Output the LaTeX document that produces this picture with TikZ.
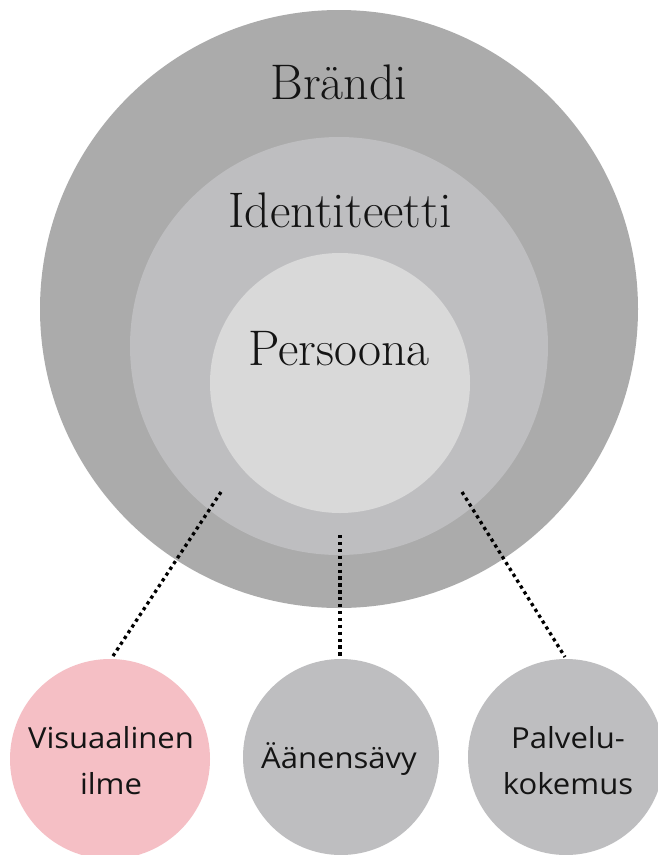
\documentclass[tikz,border=0pt]{standalone}
\usepackage{fontspec}
\newfontfamily\labelfont[FakeStretch=1.07]{Open Sans}
\definecolor{outerg}{RGB}{171,171,171}
\definecolor{midg}{RGB}{190,190,192}
\definecolor{innerg}{RGB}{217,217,217}
\definecolor{pinkc}{RGB}{245,191,197}
\definecolor{smallg}{RGB}{190,190,192}
\definecolor{txt}{RGB}{20,20,20}
\begin{document}
\begin{tikzpicture}[x=1pt,y=-1pt,
  ring/.style={circle,inner sep=0pt,draw=none},
  title/.style={anchor=base,inner sep=0pt,text=txt,font=\fontsize{50}{60}\selectfont},
  lbl/.style={inner sep=0pt,text=txt,align=center,font=\labelfont\fontsize{29}{46}\selectfont},
  dotline/.style={line width=3.3pt,dash pattern=on 3.3pt off 3.6pt,black}
]
\useasboundingbox (0,0) rectangle (658,855);
\fill[white] (0,0) rectangle (658,855);
% nested circles
\node[ring,fill=outerg,minimum size=598pt] (brand) at (339,309) {};
\node[ring,fill=midg,minimum size=418pt] (ident) at (339,346) {};
\node[ring,fill=innerg,minimum size=260pt] (pers) at (340,383) {};
% titles
\node[title] (brandT) at (339,99) {Brändi};
\node[title] (identT) at (340,227) {Identiteetti};
\node[title] (persT) at (339,365) {Persoona};
% bottom circles
\node[ring,fill=pinkc,minimum size=200pt] (vis) at (110,759) {};
\node[ring,fill=smallg,minimum size=196pt] (tone) at (341,757) {};
\node[ring,fill=smallg,minimum size=196pt] (serv) at (566,757) {};
% connectors
\coordinate (s1) at (221,492);
\coordinate (s2) at (340,535);
\coordinate (s3) at (462,492);
\coordinate (e1) at (113,656);
\coordinate (e2) at (340,658);
\coordinate (e3) at (565,657);
\draw[dotline] (s1) -- (e1);
\draw[dotline] (s2) -- (e2);
\draw[dotline] (s3) -- (e3);
% labels
\node[lbl,anchor=center] (visT) at (111,761) {Visuaalinen\\ilme};
\node[lbl,anchor=base] (toneT) at (339,768) {Äänensävy};
\node[lbl,anchor=center] (servT) at (568,761) {Palvelu-\\kokemus};
\end{tikzpicture}
\end{document}
